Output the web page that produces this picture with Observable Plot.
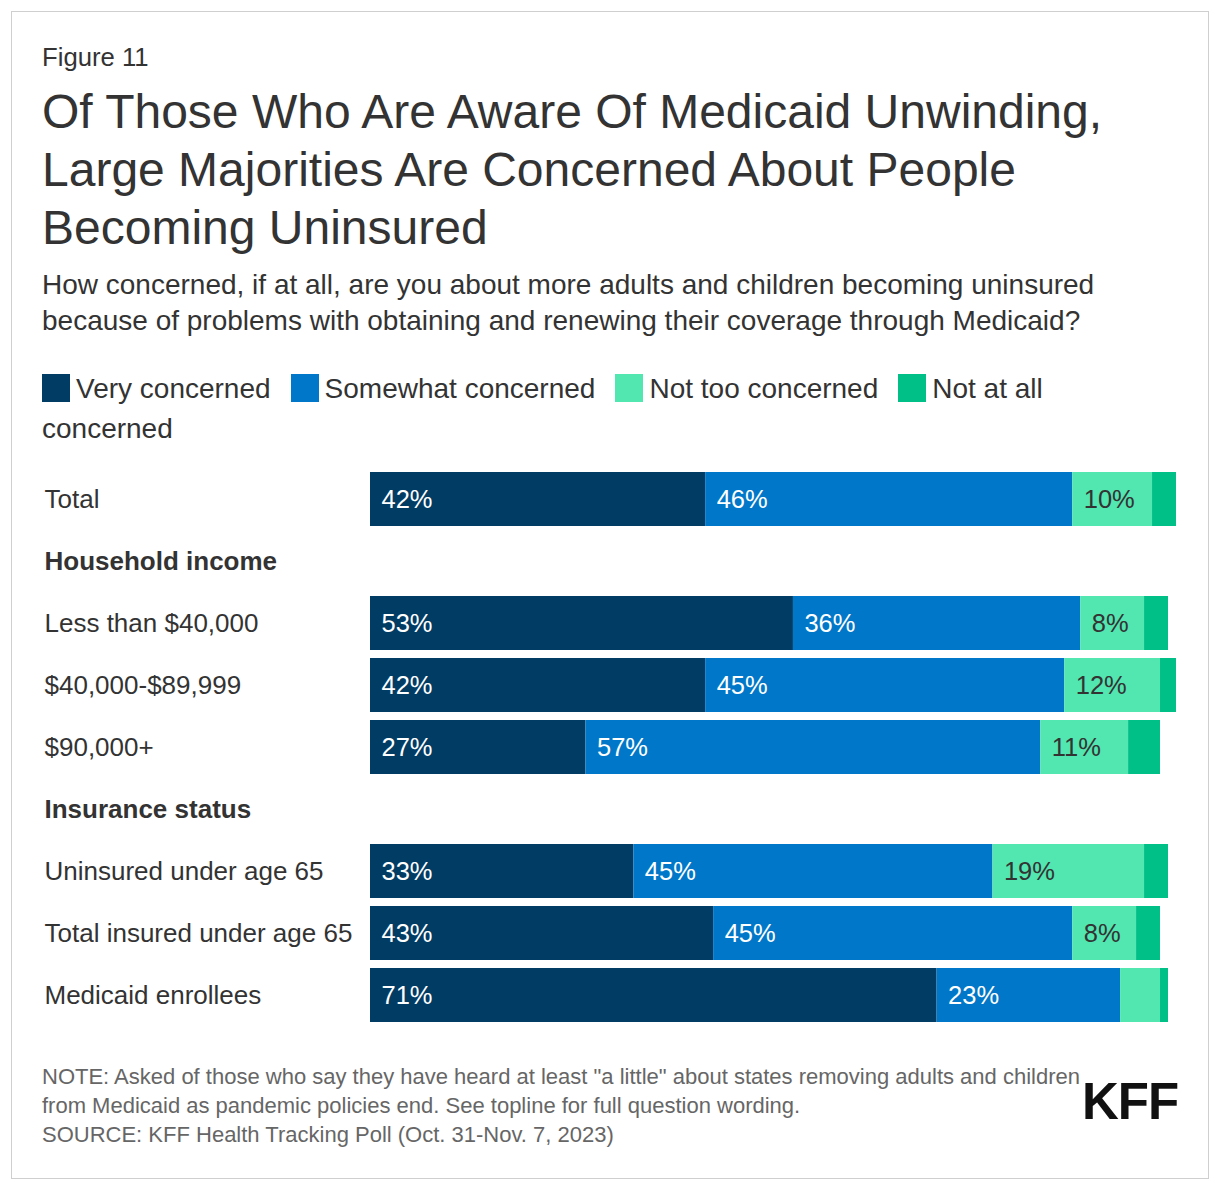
<!DOCTYPE html>
<html>
<head>
<meta charset="utf-8">
<script src="https://cdn.jsdelivr.net/npm/d3@7"></script>
<script src="https://cdn.jsdelivr.net/npm/@observablehq/plot@0.6"></script>
<style>
  html, body { margin: 0; padding: 0; background: #fff; }
  body { width: 1220px; height: 1192px; position: relative; font-family: "Liberation Sans", Arial, Helvetica, sans-serif; color: #333; }
  .card { position: absolute; left: 11px; top: 11px; width: 1196px; height: 1166px; border: 1px solid #cfcfcf; }
  .abs { position: absolute; left: 42px; }
  #fig { top: 42px; font-size: 25.7px; line-height: 30px; }
  #title { top: 83px; font-size: 48px; line-height: 58px; width: 1120px; }
  #sub { top: 267px; font-size: 28px; line-height: 36px; width: 1120px; }
  #legend { top: 369px; font-size: 28px; line-height: 40px; width: 1136px; }
  #legend .sw { display: inline-block; width: 28px; height: 28px; vertical-align: -4px; margin-right: 6px; }
  #legend .gap { display: inline-block; width: 20px; }
  #chart { position: absolute; left: 42px; top: 460px; }
  #notes { top: 1062px; font-size: 22px; line-height: 29px; color: #666; }
  #logo { position: absolute; left: 1082px; top: 1072px; font-size: 51px; font-weight: 900; color: #111; letter-spacing: -1px; line-height: 60px; }
</style>
</head>
<body>
<div class="card"></div>
<div class="abs" id="fig">Figure 11</div>
<div class="abs" id="title">Of Those Who Are Aware Of Medicaid Unwinding, Large Majorities Are Concerned About People Becoming Uninsured</div>
<div class="abs" id="sub">How concerned, if at all, are you about more adults and children becoming uninsured because of problems with obtaining and renewing their coverage through Medicaid?</div>
<div class="abs" id="legend"></div>
<div id="chart"></div>
<div class="abs" id="notes">NOTE: Asked of those who say they have heard at least "a little" about states removing adults and children<br>from Medicaid as pandemic policies end. See topline for full question wording.<br>SOURCE: KFF Health Tracking Poll (Oct. 31-Nov. 7, 2023)</div>
<div id="logo">KFF</div>
<script>
const rowLabels = ["Total", "Household income", "Less than $40,000", "$40,000-$89,999", "$90,000+", "Insurance status", "Uninsured under age 65", "Total insured under age 65", "Medicaid enrollees"];
const headerLabels = ["Household income", "Insurance status"];
const groups = ["Total", "Less than $40,000", "$40,000-$89,999", "$90,000+", "Uninsured under age 65", "Total insured under age 65", "Medicaid enrollees"];
const seriesNames = ["Very concerned", "Somewhat concerned", "Not too concerned", "Not at all concerned"];
const veryConcerned = [42, 53, 42, 27, 33, 43, 71];
const somewhatConcerned = [46, 36, 45, 57, 45, 45, 23];
const notTooConcerned = [10, 8, 12, 11, 19, 8, 5];
const notAtAllConcerned = [3, 3, 2, 4, 3, 3, 1];
const seriesColors = ["#003c64", "#0077c8", "#52e6b0", "#00bf87"];

const seriesValues = [veryConcerned, somewhatConcerned, notTooConcerned, notAtAllConcerned];
const data = [];
groups.forEach((g, i) => {
  seriesNames.forEach((s, j) => {
    data.push({group: g, key: s, value: seriesValues[j][i]});
  });
});
const rows = rowLabels.map(l => ({label: l, header: headerLabels.includes(l)}));

// legend: label words as separate spans so wrapped labels keep tight boxes
const legend = document.getElementById("legend");
legend.innerHTML = seriesNames.map((s, j) => {
  const words = s.split(" ");
  const last = words.pop();
  const head = words.join(" ");
  const gap = j < seriesNames.length - 1 ? '<span class="gap"></span>' : '';
  return `<span class="sw" style="background:${seriesColors[j]}"></span><span>${head.replace(" all", " all")}</span> <span style="white-space:nowrap">${last}</span>${gap}`;
}).join("");

const font = '"Liberation Sans", Arial, Helvetica, sans-serif';
const stackOpts = {x: "value", y: "group", z: "key", order: seriesNames};
const chart = Plot.plot({
  width: 1150,
  height: 574,
  marginLeft: 328,
  marginRight: 24,
  marginTop: 8,
  marginBottom: 8,
  style: {fontFamily: font, background: "transparent", overflow: "visible"},
  x: {domain: [0, 100], axis: null},
  y: {domain: rowLabels, axis: null, paddingInner: 8 / 62, paddingOuter: 4 / 62},
  color: {domain: seriesNames, range: seriesColors},
  marks: [
    Plot.barX(data, Plot.stackX({...stackOpts, fill: "key"})),
    Plot.text(data, Plot.stackX1({...stackOpts,
      text: d => (d.key !== "Not too concerned" && d.value >= 6) ? d.value + "%" : null,
      textAnchor: "start", dx: 11, fill: "white", fontSize: 25.5})),
    Plot.text(data, Plot.stackX1({...stackOpts,
      text: d => (d.key === "Not too concerned" && d.value >= 6) ? d.value + "%" : null,
      textAnchor: "start", dx: 11, fill: "#333", fontSize: 25.5})),
    Plot.text(rows.filter(r => !r.header), {y: "label", text: "label", frameAnchor: "left", textAnchor: "start", dx: -326,
      fill: "#333", fontSize: 26}),
    Plot.text(rows.filter(r => r.header), {y: "label", text: "label", frameAnchor: "left", textAnchor: "start", dx: -326,
      fill: "#333", fontSize: 26, fontWeight: "bold"})
  ]
});
document.getElementById("chart").appendChild(chart);
</script>
</body>
</html>
